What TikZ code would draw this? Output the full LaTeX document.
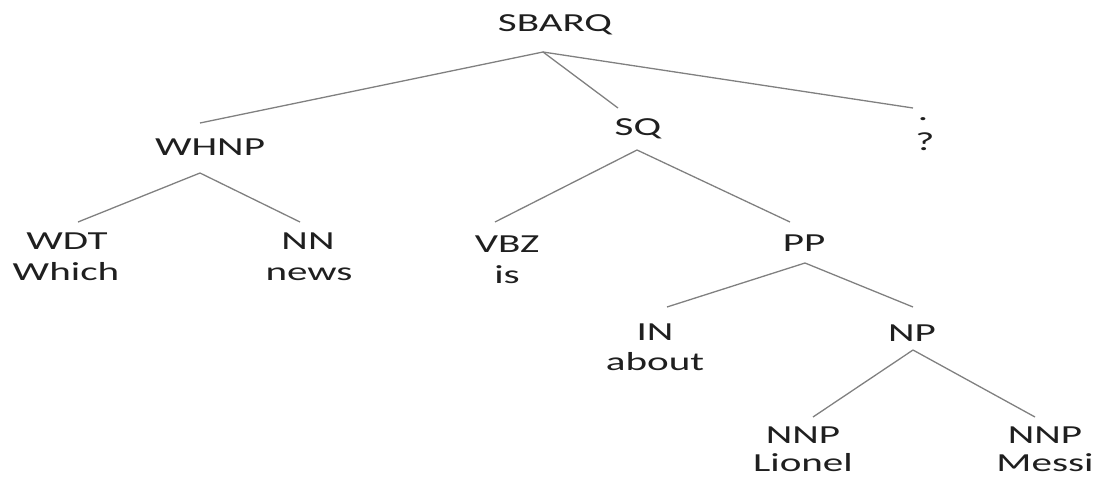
\documentclass[tikz,border=0pt]{standalone}
\usepackage{fontspec}
\setmainfont{Carlito}[FakeStretch=1.58]
\begin{document}
\begin{tikzpicture}[x=1pt,y=-1pt,
  tag/.style={anchor=base,inner sep=0pt,text=black!88,font=\fontsize{26}{30}\selectfont},
  edge/.style={draw=black!50,line width=1.3pt}]
\useasboundingbox (0,0) rectangle (1098,477);

% phrase labels (baseline positions)
\node[tag] (sbarq) at (555,31) {SBARQ};
\node[tag] (whnp)  at (210,155) {WHNP};
\node[tag] (sq)    at (638,135) {SQ};
\node[tag] (dot)   at (923,120) {.};
\node[tag] (qm)    at (925,150) {?};
\node[tag] (wdt)   at (67,249) {WDT};
\node[tag] (which) at (66,280) {Which};
\node[tag] (nn)    at (308,249) {NN};
\node[tag] (news)  at (309,280) {news};
\node[tag] (vbz)   at (507,252) {VBZ};
\node[tag] (is)    at (507,283) {is};
\node[tag] (pp)    at (804,251) {PP};
\node[tag] (in)    at (655,340) {IN};
\node[tag] (about) at (655,370) {about};
\node[tag] (np)    at (912,341) {NP};
\node[tag] (nnpa)  at (803,443) {NNP};
\node[tag] (lionel)at (803,471) {Lionel};
\node[tag] (nnpb)  at (1045,443) {NNP};
\node[tag] (messi) at (1045,471) {Messi};

% branch points under each parent and above each child
\coordinate (sbarq-b) at (543,52);
\coordinate (whnp-t)  at (200,123);
\coordinate (sq-t)    at (618,108);
\coordinate (dot-t)   at (913,108);
\coordinate (whnp-b)  at (200,173);
\coordinate (wdt-t)   at (78,222);
\coordinate (nn-t)    at (300,222);
\coordinate (sq-b)    at (637,150);
\coordinate (vbz-t)   at (495,222);
\coordinate (pp-t)    at (790,222);
\coordinate (pp-b)    at (805,263);
\coordinate (in-t)    at (667,307);
\coordinate (np-t)    at (913,307);
\coordinate (np-b)    at (913,350);
\coordinate (nnpa-t)  at (813,417);
\coordinate (nnpb-t)  at (1035,417);

% tree edges
\draw[edge] (sbarq-b) -- (whnp-t);
\draw[edge] (sbarq-b) -- (sq-t);
\draw[edge] (sbarq-b) -- (dot-t);
\draw[edge] (whnp-b) -- (wdt-t);
\draw[edge] (whnp-b) -- (nn-t);
\draw[edge] (sq-b) -- (vbz-t);
\draw[edge] (sq-b) -- (pp-t);
\draw[edge] (pp-b) -- (in-t);
\draw[edge] (pp-b) -- (np-t);
\draw[edge] (np-b) -- (nnpa-t);
\draw[edge] (np-b) -- (nnpb-t);
\end{tikzpicture}
\end{document}
